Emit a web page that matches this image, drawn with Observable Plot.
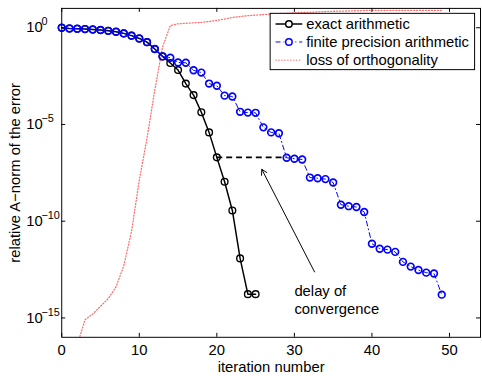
<!DOCTYPE html>
<html><head><meta charset="utf-8">
<script src="https://cdn.jsdelivr.net/npm/d3@7"></script>
<script src="https://cdn.jsdelivr.net/npm/@observablehq/plot@0.6"></script>
<style>
html,body{margin:0;padding:0;overflow:hidden;background:#fff;}
#chart{width:482px;height:376px;overflow:hidden;}
</style></head><body><div id="chart"></div>
<script>
// ---- data ----
const exactIter = [0,1,2,3,4,5,6,7,8,9,10,11,12,13,14,15,16,17,18,19,20,21,22,23,24,25];
const exactVals = [1,0.91,0.89,0.85,0.81,0.76,0.69,0.62,0.51,0.39,0.28,0.18,7.9e-2,3.3e-2,1.5e-2,6.5e-3,1.3e-3,3.3e-4,4.3e-5,3.9e-6,2.0e-7,1.1e-8,3.6e-10,1.2e-12,1.7e-14,1.7e-14];

const finiteIter = [0,1,2,3,4,5,6,7,8,9,10,11,12,13,14,15,16,17,18,19,20,21,22,23,24,25,26,27,28,29,30,31,32,33,34,35,36,37,38,39,40,41,42,43,44,45,46,47,48,49];
const finiteVals = [1,0.91,0.89,0.85,0.81,0.76,0.69,0.62,0.51,0.39,0.28,0.18,7.9e-2,3.3e-2,2.8e-2,1.6e-2,1.55e-2,6.3e-3,4.8e-3,1.3e-3,1.0e-3,3.1e-4,2.8e-4,4.5e-5,4.1e-5,4.0e-5,7.1e-6,3.9e-6,3.5e-6,1.9e-7,1.7e-7,1.55e-7,1.8e-8,1.66e-8,1.5e-8,1.0e-8,7.1e-10,6.0e-10,5.4e-10,3.0e-10,6.9e-12,3.8e-12,3.4e-12,2.6e-12,7.9e-13,4.5e-13,3.0e-13,2.2e-13,2.0e-13,1.6e-14];

const lossIter = [2,3,4,5,6,7,8,9,10,11,12,13,14,15,16,17,18,19,20,21,22,23,24,25,26,27,28,29,30,31,32,33,34,35,36,37,38,39,40,41,42,43,44,45,46,47,48,49];
const lossVals = [4e-17,8e-16,1.6e-15,4e-15,1e-14,4e-14,5e-13,3e-11,1.3e-8,2e-6,6e-4,0.1,1.3,1.6,1.7,1.8,1.9,2.1,2.4,2.8,3.4,3.8,4.2,4.5,4.8,5.1,5.4,5.6,5.9,6.2,6.3,6.6,6.9,7.1,7.2,7.4,7.6,7.8,7.9,7.9,7.9,7.9,7.9,7.9,7.9,7.9,7.9,7.9];

const seriesNames = ["exact arithmetic","finite precision arithmetic","loss of orthogonality"];
const xTicks = [0,10,20,30,40,50];
const yTicks = [1,1e-5,1e-10,1e-15];
const yTickExp = ["0","\u22125","\u221210","\u221215"];
const xTitle = "iteration number";
const yTitle = "relative A\u2212norm of the error";
const delayFrom = 20, delayTo = 29;          // iterations joined by the dashed line
const arrowTail = [32.6, 2.4e-13], arrowHead = [25.8, 4.8e-8];
const noteAt = [30.0, 9.1e-15];
const noteText = "delay of\nconvergence";

// ---- layout ----
const W = 488, H = 376, ML = 62, MR = 2, MT = 8, MB = 35;
const FW = W - ML - MR, FH = H - MT - MB;
const font = "'Liberation Sans', Arial, Helvetica, sans-serif";
const RED = "#ff6e6e";

const exactData = exactIter.map((x,i)=>({x, y: exactVals[i]}));
const finiteData = finiteIter.map((x,i)=>({x, y: finiteVals[i]}));
const lossData = lossIter.map((x,i)=>({x, y: lossVals[i]}));
const delayY = exactVals[exactIter.indexOf(delayFrom)];

const svg = Plot.plot({
  width: W, height: H, marginLeft: ML, marginRight: MR, marginTop: MT, marginBottom: MB,
  style: {fontFamily: font, fontSize: "15px", background: "white", color: "black", overflow: "visible"},
  x: {domain: [0, 54], label: null},
  y: {type: "log", domain: [1e-16, 10], label: null, axis: null},
  marks: [
    Plot.line(lossData, {x: "x", y: "y", stroke: RED, strokeWidth: 1.3, strokeDasharray: "1,2", clip: true}),
    Plot.line(exactData, {x: "x", y: "y", stroke: "black", strokeWidth: 1.5}),
    Plot.dot(exactData, {x: "x", y: "y", r: 3.4, stroke: "black", strokeWidth: 1.4, fill: "none"}),
    Plot.ruleY([delayY], {y: d=>d, x1: delayFrom, x2: delayTo, stroke: "black", strokeWidth: 1.8, strokeDasharray: "6,4"}),
    Plot.line(finiteData, {x: "x", y: "y", stroke: "blue", strokeWidth: 1, strokeDasharray: "5,3,1,3"}),
    Plot.dot(finiteData, {x: "x", y: "y", r: 3.4, stroke: "blue", strokeWidth: 1.7, fill: "none"}),
    Plot.arrow([0], {x1: arrowTail[0], y1: arrowTail[1], x2: arrowHead[0], y2: arrowHead[1], stroke: "black", strokeWidth: 1, headLength: 9}),
    Plot.text([noteText], {x: noteAt[0], y: noteAt[1], text: d=>d, textAnchor: "start", lineAnchor: "middle", lineHeight: 1.18, fontSize: 15, fill: "black"}),
    Plot.frame({stroke: "black"}),
    Plot.tickX(xTicks, {x: d=>d, insetTop: FH - 4, stroke: "black"}),
    Plot.tickX(xTicks, {x: d=>d, insetBottom: FH - 4, stroke: "black"}),
    Plot.tickY(yTicks, {y: d=>d, insetRight: FW - 4, stroke: "black"}),
    Plot.tickY(yTicks, {y: d=>d, insetLeft: FW - 4, stroke: "black"}),
    Plot.axisX({ticks: xTicks, tickSize: 0, tickPadding: 7, fontSize: 15}),
    Plot.text(yTicks, {y: d=>d, frameAnchor: "left", dx: -36, textAnchor: "start", lineAnchor: "middle", text: ()=>"10", fontSize: 15, fill: "black"}),
    Plot.text(yTicks, {y: d=>d, frameAnchor: "left", dx: -20.5, dy: -6, textAnchor: "start", lineAnchor: "middle", text: (d,i)=>yTickExp[i], fontSize: 11, fill: "black"}),
    Plot.text([xTitle], {frameAnchor: "bottom", dy: 30, textAnchor: "middle", lineAnchor: "middle", text: d=>d, fontSize: 15, fill: "black"}),
    Plot.text([yTitle], {frameAnchor: "left", dx: -47, rotate: -90, textAnchor: "middle", lineAnchor: "middle", text: d=>d, fontSize: 15, fill: "black"})
  ]
});
document.getElementById("chart").appendChild(svg);

// ---- legend ----
const s = d3.select(svg);
const lg = s.append("g").attr("font-family", font).attr("font-size", 15).attr("text-anchor", "start");
lg.append("rect").attr("x", 273.5).attr("y", 13.5).attr("width", 207).attr("height", 57)
  .attr("fill", "white").attr("stroke", "black").attr("stroke-width", 1);
const rows = [
  {y: 24.3, stroke: "black", dash: null, w: 1.5, marker: true},
  {y: 42.5, stroke: "blue", dash: "5,3,1,3", w: 1, marker: true},
  {y: 61, stroke: RED, dash: "1,2", w: 1.3, marker: false}
];
rows.forEach((r, i) => {
  const l = lg.append("line").attr("x1", 279).attr("x2", 306).attr("y1", r.y).attr("y2", r.y)
    .attr("stroke", r.stroke).attr("stroke-width", r.w);
  if (r.dash) l.attr("stroke-dasharray", r.dash);
  if (r.marker) lg.append("circle").attr("cx", 292.5).attr("cy", r.y).attr("r", 3.3)
    .attr("fill", "white").attr("stroke", r.stroke).attr("stroke-width", 1.5);
  lg.append("text").attr("x", 310).attr("y", r.y).attr("dy", "0.35em").attr("fill", "black")
    .attr("text-anchor", "start").text(seriesNames[i]);
});
</script></body></html>
